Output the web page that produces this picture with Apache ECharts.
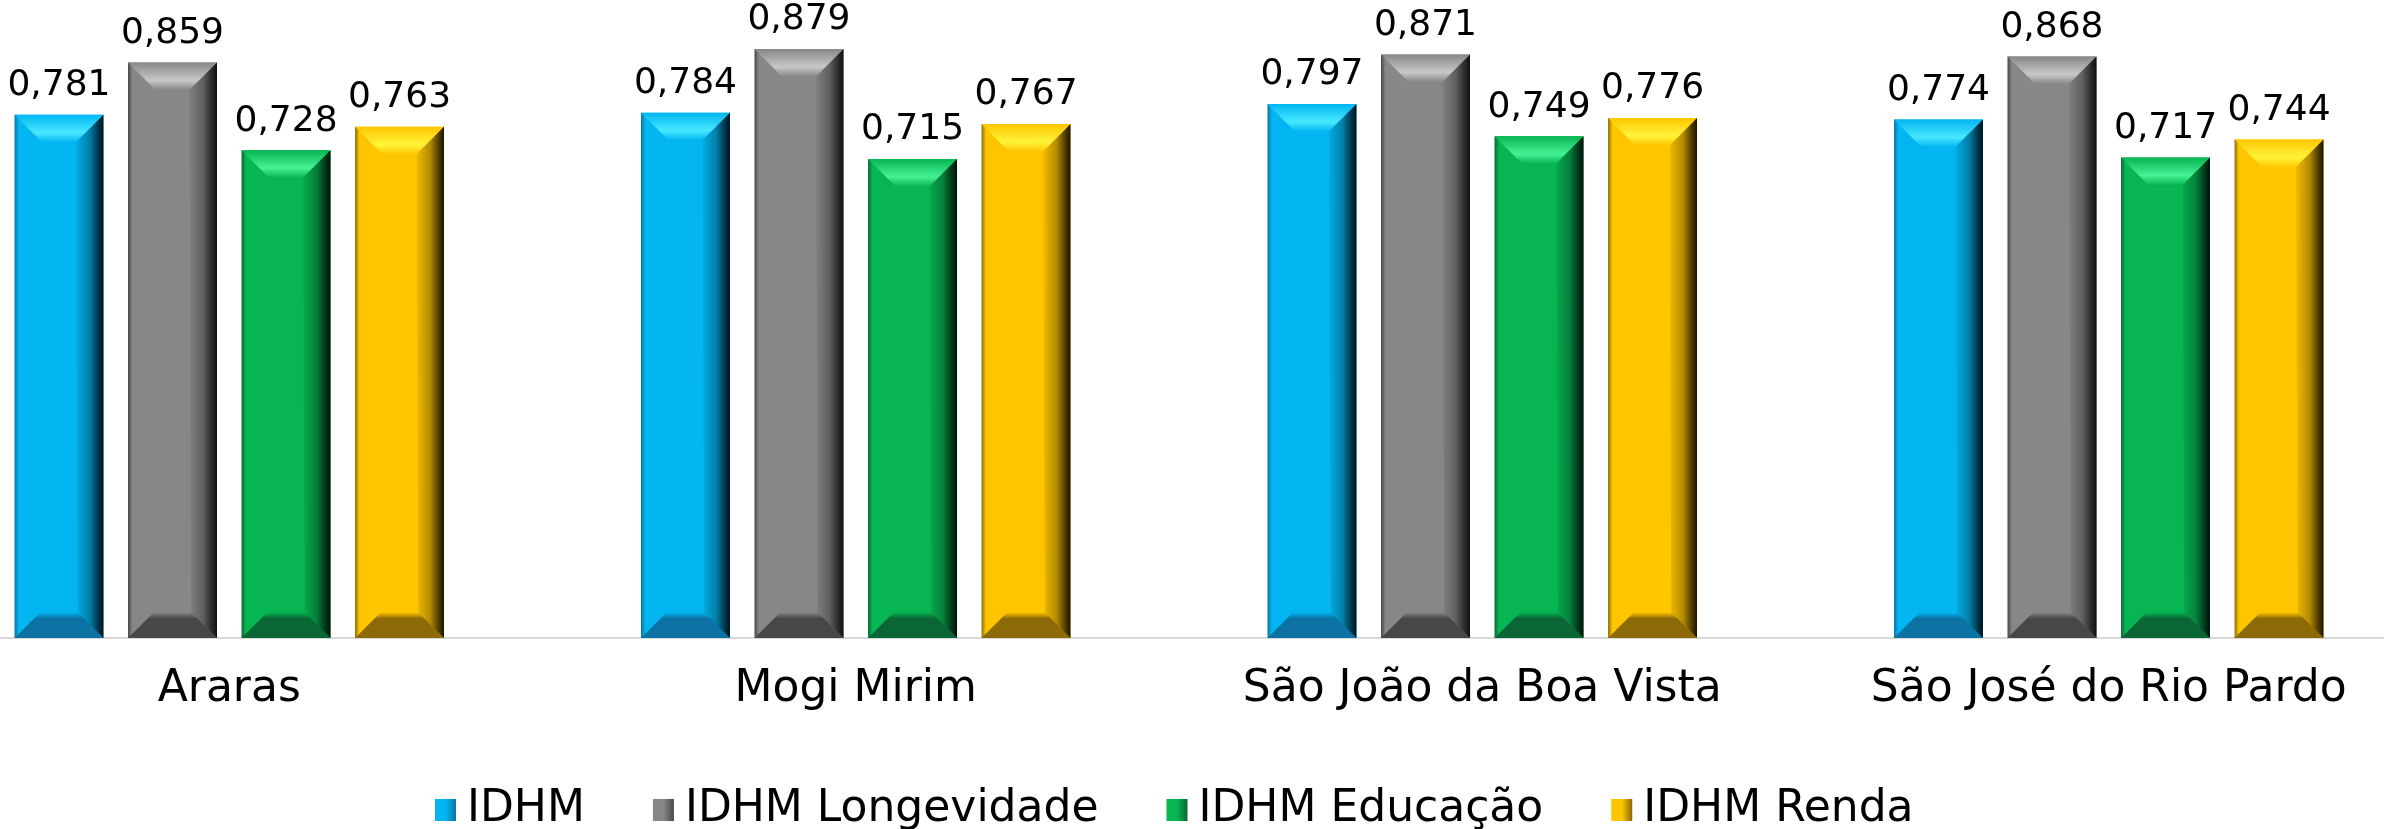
<!DOCTYPE html>
<html>
<head>
<meta charset="utf-8">
<script src="https://cdn.jsdelivr.net/npm/echarts@6/dist/echarts.min.js"></script>
<style>
  html, body { margin: 0; padding: 0; background: #fff; overflow: hidden; }
  /* o gráfico original é cortado nas laterais */
  #chart { width: 2506px; height: 829px; margin-left: -84px; }
</style>
</head>
<body>
<div id="chart"></div>
<script>
var myChart = echarts.init(document.getElementById('chart'));

// dados
var categories = ['Araras', 'Mogi Mirim', 'São João da Boa Vista', 'São José do Rio Pardo'];
var seriesNames = ['IDHM', 'IDHM Longevidade', 'IDHM Educação', 'IDHM Renda'];
var idhm = [0.781, 0.784, 0.797, 0.774];
var longevidade = [0.859, 0.879, 0.871, 0.868];
var educacao = [0.728, 0.715, 0.749, 0.717];
var renda = [0.763, 0.767, 0.776, 0.744];

// cores de cada barra (principal, brilho, base, borda escura)
var palette = [
    { main: '#03B6F2', light: '#48E8FF', low: '#0B72A3', edge: '#00121b' },
    { main: '#878787', light: '#C8C8C8', low: '#474747', edge: '#101010' },
    { main: '#07B552', light: '#45F396', low: '#0A6634', edge: '#00130a' },
    { main: '#FFC600', light: '#FFF43A', low: '#8C6A08', edge: '#1c1300' }
];

var fontName = 'DejaVu Sans';

function fmt(v) {
    return v.toFixed(3).replace('.', ',');
}

function lin(x, y, x2, y2, stops) {
    return new echarts.graphic.LinearGradient(x, y, x2, y2, stops);
}

// barra com efeito de chanfro
function renderBar(params, api) {
    var c = palette[params.seriesIndex];
    var val = api.value(1);
    var top = api.coord([api.value(0), val]);
    var base = api.coord([api.value(0), 0]);
    var band = api.size([1, 0])[0];
    var w = band * 0.142;
    var step = band * 0.1812;
    var cx = top[0] + (params.seriesIndex - 1.5) * step;
    var x0 = cx - w / 2, x1 = cx + w / 2;
    var y0 = top[1], y1 = base[1];
    var dt = w * 0.31, db = w * 0.29;

    return {
        type: 'group',
        children: [
            {   // corpo
                type: 'rect',
                shape: { x: x0, y: y0, width: w, height: y1 - y0 },
                style: {
                    fill: lin(0, 0, 1, 0, [
                        { offset: 0, color: c.low },
                        { offset: 0.05, color: c.main },
                        { offset: 1, color: c.main }
                    ])
                }
            },
            {   // chanfro de cima
                type: 'polygon',
                shape: { points: [[x0, y0], [x1, y0], [x1 - dt, y0 + dt], [x0 + dt, y0 + dt]] },
                style: {
                    fill: lin(0, 0, 0, 1, [
                        { offset: 0, color: c.main },
                        { offset: 0.65, color: c.light },
                        { offset: 1, color: c.main }
                    ])
                }
            },
            {   // chanfro de baixo
                type: 'polygon',
                shape: { points: [[x0, y1], [x0 + db, y1 - db], [x1 - db, y1 - db], [x1, y1]] },
                style: {
                    fill: lin(0, 0, 0, 1, [
                        { offset: 0, color: c.main },
                        { offset: 0.25, color: c.low },
                        { offset: 1, color: c.low }
                    ])
                }
            },
            {   // lado direito escuro
                type: 'polygon',
                shape: { points: [[x1 - dt, y0 + dt], [x1, y0], [x1, y1], [x1 - db, y1 - db]] },
                style: {
                    fill: lin(0, 0, 1, 0, [
                        { offset: 0, color: 'rgba(0,0,0,0.05)' },
                        { offset: 0.5, color: 'rgba(0,0,0,0.3)' },
                        { offset: 1, color: c.edge }
                    ])
                }
            },
            {   // valor
                type: 'text',
                style: {
                    text: fmt(val),
                    x: cx,
                    y: y0 - 11,
                    align: 'center',
                    verticalAlign: 'bottom',
                    fontSize: 36,
                    fontFamily: fontName,
                    fill: '#000'
                }
            }
        ]
    };
}

function toData(arr) {
    return arr.map(function (v, i) { return [i, v]; });
}

var allValues = [idhm, longevidade, educacao, renda];

option = {
    animation: false,
    grid: {
        left: 0,
        right: 0,
        top: 35,
        bottom: 191
    },
    legend: {
        left: 514,
        top: 783,
        itemWidth: 21,
        itemHeight: 22,
        itemGap: 68,
        icon: 'rect',
        textStyle: {
            fontSize: 44,
            lineHeight: 44,
            fontFamily: fontName,
            color: '#000',
            padding: [0, 0, 0, 6]
        },
        data: seriesNames.map(function (n, i) {
            return {
                name: n,
                itemStyle: {
                    color: lin(0, 0, 1, 0, [
                        { offset: 0, color: palette[i].main },
                        { offset: 0.5, color: palette[i].main },
                        { offset: 1, color: palette[i].low }
                    ])
                }
            };
        })
    },
    xAxis: {
        type: 'category',
        data: categories,
        axisTick: { show: false },
        axisLine: {
            lineStyle: { color: '#D9D9D9', width: 2 }
        },
        axisLabel: {
            fontSize: 44,
            fontFamily: fontName,
            color: '#000',
            margin: 30
        }
    },
    yAxis: {
        type: 'value',
        min: 0,
        max: 0.9,
        show: false,
        splitLine: { show: false }
    },
    series: seriesNames.map(function (n, i) {
        return {
            name: n,
            type: 'custom',
            renderItem: renderBar,
            itemStyle: { color: palette[i].main },
            encode: { x: 0, y: 1 },
            data: toData(allValues[i])
        };
    })
};

myChart.setOption(option);
</script>
</body>
</html>
